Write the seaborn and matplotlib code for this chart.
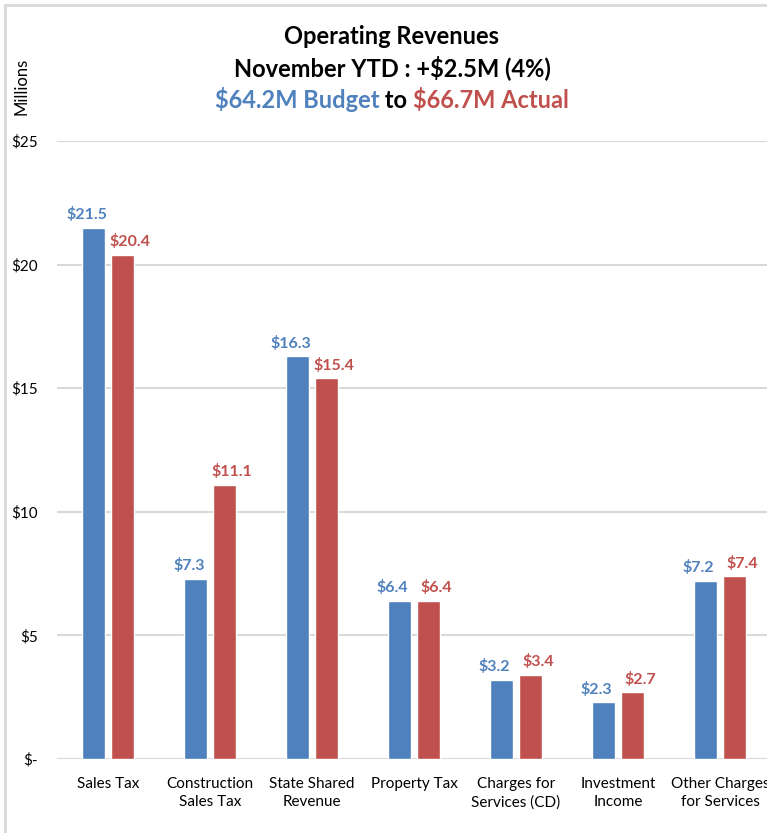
import pandas as pd
import seaborn as sns
import matplotlib.pyplot as plt
from matplotlib.patches import Rectangle

# Chart data (millions)
categories = ["Sales Tax", "Construction\nSales Tax", "State Shared\nRevenue", "Property Tax",
              "Charges for\nServices (CD)", "Investment\nIncome", "Other Charges\nfor Services"]
budget = [21.5, 7.3, 16.3, 6.4, 3.2, 2.3, 7.2]
actual = [20.4, 11.1, 15.4, 6.4, 3.4, 2.7, 7.4]
series = ["Budget", "Actual"]
yticks = [0, 5, 10, 15, 20, 25]
ytick_labels = ["$-", "$5", "$10", "$15", "$20", "$25"]

blue = "#4F81BD"
red = "#C0504D"

df = pd.DataFrame({
    "category": categories * 2,
    "value": budget + actual,
    "series": [series[0]] * len(categories) + [series[1]] * len(categories),
})

sns.set_style("white")
plt.rcParams["font.family"] = ["Lato", "DejaVu Sans"]

fig = plt.figure(figsize=(7.67, 8.33), dpi=100)
ax = fig.add_axes([57 / 767, 74 / 833, 714 / 767, 618 / 833])

sns.barplot(data=df, x="category", y="value", hue="series", palette=[blue, red],
            width=0.56, gap=0.2, ax=ax, legend=False, saturation=1)

ax.set_xlim(-0.5, 6.5)
ax.set_ylim(0, 25)
ax.set_yticks(yticks)
ax.set_yticklabels(ytick_labels, fontsize=11)
ax.yaxis.grid(True, color="#D9D9D9", linewidth=1.5)
ax.set_axisbelow(True)
ax.tick_params(axis="y", length=0, pad=14, labelcolor="black")
ax.tick_params(axis="x", length=0, pad=13, labelsize=11, labelcolor="black")
for lbl in ax.get_xticklabels():
    lbl.set_linespacing(1.4)
ax.set_xlabel("")
ax.set_ylabel("")
for s in ax.spines.values():
    s.set_visible(False)

# value labels, nudged apart like the original
for cont, col, dx in zip(ax.containers, [blue, red], [-5, 5.5]):
    for b in cont:
        ax.annotate(f"${b.get_height():.1f}", (b.get_x() + b.get_width() / 2, b.get_height()),
                    xytext=(dx, 4), textcoords="offset points", ha="center", va="bottom",
                    color=col, fontsize=11.5, fontweight="bold")

# outer frame
fig.patches.append(Rectangle((5 / 767, -0.1), 1.2, (828 / 833) + 0.1, transform=fig.transFigure,
                             fill=False, edgecolor="#D9D9D9", linewidth=2))

# titles
cx = 392 / 767
fig.text(cx, 1 - 37 / 833, "Operating Revenues", ha="center", va="center",
         fontsize=17, fontweight="bold", color="black")
fig.text(cx, 1 - 68 / 833, "November YTD : +$2.5M (4%)", ha="center", va="center",
         fontsize=17, fontweight="bold", color="black")

parts = [("$64.2M Budget", blue), (" to ", "black"), ("$66.7M Actual", red)]
renderer = fig.canvas.get_renderer()
texts = [fig.text(0, 1 - 100 / 833, p, color=c, ha="left", va="center",
                  fontsize=17, fontweight="bold") for p, c in parts]
widths = [t.get_window_extent(renderer).width for t in texts]
x = cx * fig.bbox.width - sum(widths) / 2
for t, w in zip(texts, widths):
    t.set_x(x / fig.bbox.width)
    x += w

fig.text(22 / 767, 1 - 86 / 833, "Millions", rotation=90, ha="center", va="center",
         fontsize=12, color="black")

fig.savefig("out.png", dpi=100)
